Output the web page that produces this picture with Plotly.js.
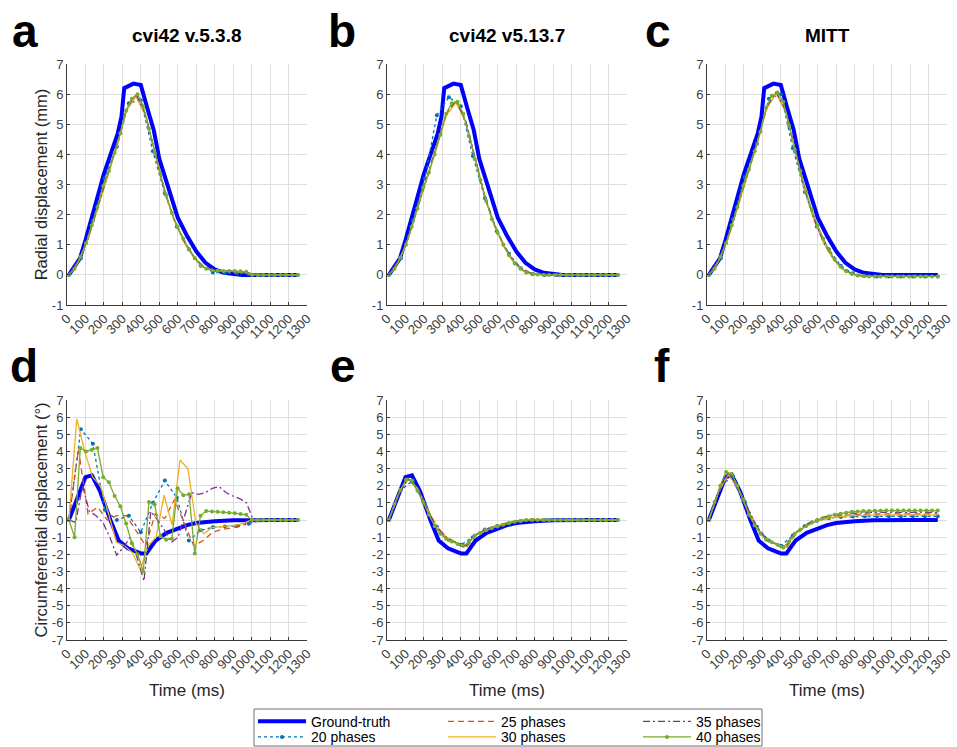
<!DOCTYPE html>
<html><head><meta charset="utf-8">
<script src="https://cdn.plot.ly/plotly-3.0.1.min.js"></script>
<style>html,body{margin:0;padding:0;background:#fff}#chart{width:957px;height:747px}</style>
</head><body><div id="chart"></div>
<script>
// ---------- DATA ----------
const xTicks = [0,100,200,300,400,500,600,700,800,900,1000,1100,1200,1300];
const yTicksTop = [-1,0,1,2,3,4,5,6,7];
const yTicksBottom = [-7,-6,-5,-4,-3,-2,-1,0,1,2,3,4,5,6,7];
const panelLetters = ['a','b','c','d','e','f'];
const panelTitles = ['cvi42 v.5.3.8','cvi42 v5.13.7','MITT'];
const seriesNames = ['Ground-truth','20 phases','25 phases','30 phases','35 phases','40 phases'];

// time grids (ms)
const tRad = [10,55,70,100,150,200,250,275,295,310,360,400,432,470,500,550,600,650,700,750,800,850,900,950,1000,1100,1200,1250];
const tCirc = [10,50,100,135,180,235,280,330,400,430,480,540,600,650,700,800,900,975,1000,1100,1200,1250];
const t20 = [10,75,140,205,270,335,400,465,530,595,660,725,790,855,920,985,1050,1115,1180,1250];
const tS = [10,62,114,166,218,270,322,374,426,478,530,582,634,686,738,790,842,894,946,998,1050,1102,1154,1206,1250];
const t30d = [10,53,96,139,182,225,268,311,354,397,440,483,526,569,612,655,698,741,784,827,870,913,956,999,1042,1085,1128,1171,1214,1250];
const t35d = [10,47,84,121,158,195,232,269,306,343,380,417,454,491,528,565,602,639,676,713,750,787,824,861,898,935,972,1009,1046,1083,1120,1157,1194,1250];
const t40 = [10,41,72,103,134,165,196,227,258,289,320,351,382,413,444,475,506,537,568,599,630,661,692,723,754,785,816,847,878,909,940,971,1002,1033,1064,1095,1126,1157,1188,1219,1250];

// ground truth
const radGT = [0,0.4,0.55,1.15,2.3,3.35,4.25,4.7,5.25,6.2,6.35,6.3,5.6,4.8,3.85,2.85,1.9,1.3,0.78,0.4,0.18,0.07,0.02,0,0,0,0,0];
const circGT = [0,1.15,2.5,2.6,1.65,0,-1.2,-1.65,-1.95,-1.95,-1.2,-0.75,-0.48,-0.3,-0.18,-0.07,-0.02,0,0,0,0,0];

// panel a (radial, cvi42 v.5.3.8)
const a20 = [0,0.55,1.8,3.2,4.25,5.7,5.8,4.1,2.7,1.6,0.85,0.3,0.08,0.06,0.05,0.03,0,0,0,0];
const a25 = [0,0.45,1.2,2.2,3.25,4.3,5.5,5.95,5.3,4.0,2.75,1.8,1.1,0.6,0.27,0.15,0.14,0.12,0.1,0.02,0,0,0,0,0];
const a30 = [0,0.43,1.17,2.17,3.2,4.25,5.45,5.92,5.28,3.98,2.73,1.78,1.08,0.58,0.25,0.14,0.13,0.11,0.1,0.02,0,0,0,0,0];
const a35 = [0,0.47,1.22,2.22,3.28,4.33,5.53,6.0,5.33,4.02,2.77,1.82,1.12,0.62,0.28,0.16,0.15,0.13,0.11,0.02,0,0,0,0,0];
const a40 = [0,0.2,0.6,1.05,1.65,2.25,2.95,3.45,4.05,4.7,5.45,5.85,6.0,5.6,4.85,4.05,3.35,2.65,2.05,1.6,1.2,0.85,0.55,0.33,0.2,0.15,0.14,0.13,0.13,0.13,0.12,0.1,0,0,0,0,0,0,0,0,0];

// panel b (radial, cvi42 v5.13.7)
const b20 = [0,0.55,1.8,3.2,5.3,5.9,5.6,3.95,2.55,1.45,0.7,0.22,0.03,0,0,0,0,0,0,0];
const b25 = [0,0.45,1.2,2.2,3.25,4.3,5.35,5.75,5.1,3.85,2.6,1.65,0.95,0.45,0.15,0.04,0,0,0,0,0,0,0,0,0];
const b30 = [0,0.43,1.18,2.18,3.22,4.25,5.3,5.72,5.08,3.82,2.58,1.62,0.92,0.42,0.13,0.03,0,0,0,0,0,0,0,0,0];
const b35 = [0,0.47,1.22,2.22,3.27,4.32,5.38,5.78,5.12,3.87,2.62,1.66,0.96,0.46,0.16,0.04,0.01,0,0,0,0,0,0,0,0];
const b40 = [0,0.2,0.58,1.0,1.6,2.2,2.9,3.4,4.0,4.65,5.35,5.7,5.75,5.35,4.6,3.85,3.15,2.45,1.85,1.4,1.0,0.65,0.38,0.2,0.08,0.03,0.01,0,0,0,0,0,0,0,0,0,0,0,0,0,0];

// panel c (radial, MITT)
const c20 = [0,0.55,1.85,3.25,4.35,5.85,6.0,4.2,2.75,1.6,0.85,0.3,0.05,-0.03,-0.05,-0.05,-0.05,-0.05,-0.05,-0.05];
const c25 = [0,0.47,1.22,2.25,3.3,4.35,5.55,6.05,5.45,4.1,2.8,1.8,1.05,0.52,0.18,0.02,-0.04,-0.05,-0.05,-0.05,-0.05,-0.05,-0.05,-0.05,-0.05];
const c30 = [0,0.45,1.2,2.22,3.27,4.3,5.5,6.02,5.42,4.07,2.78,1.78,1.03,0.5,0.16,0.01,-0.04,-0.05,-0.05,-0.05,-0.05,-0.05,-0.05,-0.05,-0.05];
const c35 = [0,0.48,1.24,2.27,3.32,4.37,5.57,6.07,5.47,4.12,2.82,1.82,1.07,0.54,0.19,0.03,-0.03,-0.05,-0.05,-0.05,-0.05,-0.05,-0.05,-0.05,-0.05];
const c40 = [0,0.2,0.6,1.05,1.65,2.25,2.95,3.5,4.1,4.75,5.55,5.95,6.05,5.75,4.95,4.15,3.45,2.75,2.15,1.65,1.2,0.82,0.5,0.27,0.12,0.03,-0.02,-0.04,-0.05,-0.05,-0.05,-0.05,-0.05,-0.05,-0.05,-0.05,-0.05,-0.05,-0.05,-0.05,-0.05];

// panel d (circumferential, cvi42 v.5.3.8)
const d20 = [0,5.3,4.45,0.6,0.0,0.25,-0.72,1.0,2.3,1.3,-1.2,-0.6,-0.42,-0.38,-0.35,-0.22,0,0,0,0];
const d25 = [0,4.1,0.35,0.75,0.0,0.25,0.25,-0.6,-1.5,0.35,0.1,1.2,-0.2,-1.5,-1.2,-0.7,-0.55,-0.45,-0.35,0,0,0,0,0,0];
const d30 = [0,5.9,4.0,2.5,2.0,0.4,-1.3,-1.5,-1.9,-2.9,-1.5,-1.0,1.45,-0.3,3.5,3.0,-0.2,-0.8,-0.45,-0.4,-0.35,-0.3,-0.2,0,0,0,0,0,0,0];
const d35 = [0,-0.15,2.0,0.5,0.25,-0.15,-1.0,-2.05,-1.6,-1.0,-2.2,-3.55,0.5,0.0,-0.6,-1.3,-1.0,0.3,1.6,1.5,1.6,1.85,1.95,1.6,1.4,1.25,1.0,0,0,0,0,0,0,0];
const d40 = [0,-1.0,4.2,4.0,4.1,4.2,2.5,2.2,1.4,0.8,-0.2,-1.35,-2.0,-3.0,1.05,0.9,-0.95,-1.15,-1.1,1.85,1.45,1.5,-1.95,0.25,0.52,0.5,0.48,0.45,0.42,0.4,0.35,0.3,0,0,0,0,0,0,0,0,0];

// panel e (circumferential, cvi42 v5.13.7)
const e20 = [0,1.75,2.3,0.9,-0.4,-1.15,-1.45,-1.0,-0.55,-0.35,-0.2,-0.08,0,0,0,0,0,0,0,0];
const e25 = [0,1.45,2.4,1.8,0.6,-0.45,-1.05,-1.35,-1.65,-0.95,-0.6,-0.4,-0.25,-0.12,-0.05,-0.02,0,0,0,0,0,0,0,0,0];
const e30 = [0,1.5,2.45,1.85,0.65,-0.4,-1.0,-1.3,-1.55,-0.9,-0.55,-0.35,-0.2,-0.08,0.02,0.05,0.02,0,0,0,0,0,0,0,0];
const e35 = [0,1.48,2.4,1.8,0.6,-0.42,-1.02,-1.32,-1.5,-0.88,-0.55,-0.38,-0.22,-0.1,-0.02,0,0,0,0,0,0,0,0,0,0];
const e40 = [0,0.95,1.75,2.35,2.3,1.7,1.05,0.3,-0.35,-0.8,-1.1,-1.25,-1.4,-1.5,-1.3,-0.9,-0.75,-0.6,-0.48,-0.38,-0.28,-0.18,-0.1,-0.05,0,0.02,0,0,0,0,0,0,0,0,0,0,0,0,0,0,0];

// panel f (circumferential, MITT)
const f20 = [0,2.0,2.55,1.05,-0.4,-1.2,-1.5,-0.9,-0.35,-0.05,0.1,0.18,0.2,0.22,0.22,0.22,0.22,0.22,0.22,0.22];
const f25 = [0,1.6,2.7,1.95,0.7,-0.45,-1.15,-1.45,-1.7,-0.85,-0.4,-0.1,0.1,0.22,0.28,0.32,0.34,0.35,0.35,0.35,0.35,0.35,0.35,0.35,0.35];
const f30 = [0,1.62,2.65,1.9,0.65,-0.45,-1.1,-1.4,-1.6,-0.8,-0.4,-0.12,0.05,0.15,0.22,0.26,0.28,0.3,0.3,0.3,0.3,0.3,0.3,0.3,0.3];
const f35 = [0,1.65,2.75,2.0,0.72,-0.4,-1.1,-1.4,-1.55,-0.75,-0.3,0.0,0.18,0.3,0.36,0.4,0.42,0.44,0.45,0.45,0.45,0.45,0.45,0.45,0.45];
const f40 = [0,1.05,2.0,2.8,2.7,2.0,1.2,0.3,-0.3,-0.8,-1.15,-1.3,-1.45,-1.6,-1.25,-0.8,-0.55,-0.35,-0.15,0.0,0.12,0.22,0.3,0.37,0.43,0.48,0.5,0.52,0.53,0.54,0.54,0.55,0.55,0.55,0.55,0.55,0.55,0.55,0.55,0.55,0.55];

// ---------- BUILD ----------
const W = 957, H = 747;
const px = v => v / W, py = v => 1 - v / H;
const cols = [[67,307],[387,627],[707,947]];
const rows = [[64,305],[400,640]];

const panels = [
  {tg:tRad, gt:radGT, s:[a20,a25,a30,a35,a40], t:[t20,tS,tS,tS,t40], row:0, col:0},
  {tg:tRad, gt:radGT, s:[b20,b25,b30,b35,b40], t:[t20,tS,tS,tS,t40], row:0, col:1},
  {tg:tRad, gt:radGT, s:[c20,c25,c30,c35,c40], t:[t20,tS,tS,tS,t40], row:0, col:2},
  {tg:tCirc, gt:circGT, s:[d20,d25,d30,d35,d40], t:[t20,tS,t30d,t35d,t40], row:1, col:0},
  {tg:tCirc, gt:circGT, s:[e20,e25,e30,e35,e40], t:[t20,tS,tS,tS,t40], row:1, col:1},
  {tg:tCirc, gt:circGT, s:[f20,f25,f30,f35,f40], t:[t20,tS,tS,tS,t40], row:1, col:2}
];

// legend placement: one legend per entry (MATLAB-style 3 columns x 2 rows)
const legendIds = ['legend','legend2','legend3','legend4','legend5','legend6'];
const legendPos = [[253,721.7],[253,737.3],[443,721.7],[443,737.3],[638,721.7],[638,737.3]];

const styles = [
  {line:{color:'#0000FF', width:4}, mode:'lines'},
  {line:{color:'#0072BD', width:1.3, dash:'dot'}, mode:'lines+markers', marker:{size:4, color:'#0072BD'}},
  {line:{color:'#D95319', width:1.3, dash:'6px,4px'}, mode:'lines'},
  {line:{color:'#EDB120', width:1.3}, mode:'lines'},
  {line:{color:'#7E2F8E', width:1.3, dash:'7px,3px,2px,3px'}, mode:'lines'},
  {line:{color:'#77AC30', width:1.3}, mode:'lines+markers', marker:{size:4, color:'#77AC30'}}
];

const FONT = 'Liberation Sans, Arial, Helvetica, sans-serif';
const traces = [];
const layout = {
  width: W, height: H, margin:{l:0,r:0,t:0,b:0,autoexpand:false},
  paper_bgcolor:'#ffffff', plot_bgcolor:'#ffffff',
  font:{family:FONT, color:'#262626'},
  showlegend:true, annotations:[], shapes:[]
};

panels.forEach((p, i) => {
  const k = i + 1, sfx = k === 1 ? '' : String(k);
  const xa = 'x' + sfx, ya = 'y' + sfx;
  const seriesX = [p.tg].concat(p.t), seriesY = [p.gt].concat(p.s);
  seriesY.forEach((ys, j) => {
    const st = styles[j];
    const tr = {x: seriesX[j], y: ys, xaxis: xa, yaxis: ya, type:'scatter', mode: st.mode,
      name: seriesNames[j], line: st.line, showlegend: i === 0, legend: legendIds[j], hoverinfo:'skip'};
    if (st.marker) tr.marker = st.marker;
    traces.push(tr);
  });
  const c = cols[p.col], r = rows[p.row];
  layout['xaxis' + sfx] = {
    domain:[px(c[0]), px(c[1])], anchor: ya, range:[0,1300],
    tickmode:'array', tickvals: xTicks, ticktext: xTicks.map(String), tickangle:-45,
    showgrid:true, gridcolor:'#dedede', gridwidth:1, zeroline:false,
    showline:true, linecolor:'#3a3a3a', linewidth:1, ticks:'inside', ticklen:3, tickcolor:'#3a3a3a',
    tickfont:{family:FONT, size:13, color:'#404040'},
    title: p.row === 1 ? {text:'Time (ms)', font:{family:FONT, size:17, color:'#262626'}, standoff:7} : {text:''}
  };
  const yt = p.row === 0 ? yTicksTop : yTicksBottom;
  layout['yaxis' + sfx] = {
    domain:[py(r[1]), py(r[0])], anchor: xa, range:[yt[0], yt[yt.length-1]],
    tickmode:'array', tickvals: yt, ticktext: yt.map(String),
    showgrid:true, gridcolor:'#dedede', gridwidth:1, zeroline:false,
    showline:true, linecolor:'#3a3a3a', linewidth:1, ticks:'inside', ticklen:3, tickcolor:'#3a3a3a',
    tickfont:{family:FONT, size:13, color:'#404040'},
    title: p.col === 0 ? {text: p.row === 0 ? 'Radial displacement (mm)' : 'Circumferential displacement (°)',
      font:{family:FONT, size:16.5, color:'#262626'}, standoff:0} : {text:''}
  };
});

// panel letters and titles
const letterPos = [[25,31],[342,31],[658,31],[24,366],[343,366],[662,366]];
panelLetters.forEach((L, i) => {
  layout.annotations.push({text:L, x:px(letterPos[i][0]), y:py(letterPos[i][1]), xref:'paper', yref:'paper',
    showarrow:false, xanchor:'center', yanchor:'middle',
    font:{family:FONT, size:46, color:'#000', weight:'bold'}});
});
panelTitles.forEach((T, i) => {
  layout.annotations.push({text:T, x:px((cols[i][0]+cols[i][1])/2), y:py(35), xref:'paper', yref:'paper',
    showarrow:false, xanchor:'center', yanchor:'middle',
    font:{family:FONT, size:19, color:'#000', weight:'bold'}});
});

// legends
legendIds.forEach((id, j) => {
  layout[id] = {xref:'paper', yref:'paper', xanchor:'left', yanchor:'middle', orientation:'v',
    x: px(legendPos[j][0]), y: py(legendPos[j][1]),
    bgcolor:'rgba(0,0,0,0)', borderwidth:0, itemwidth:48, tracegroupgap:0,
    font:{family:FONT, size:14, color:'#000'}};
});
layout.shapes.push({type:'rect', xref:'paper', yref:'paper', x0:px(254), x1:px(762), y0:py(746), y1:py(709),
  line:{color:'#707070', width:1}, fillcolor:'rgba(0,0,0,0)'});

Plotly.newPlot('chart', traces, layout, {staticPlot:true, displayModeBar:false});
</script>
</body></html>
